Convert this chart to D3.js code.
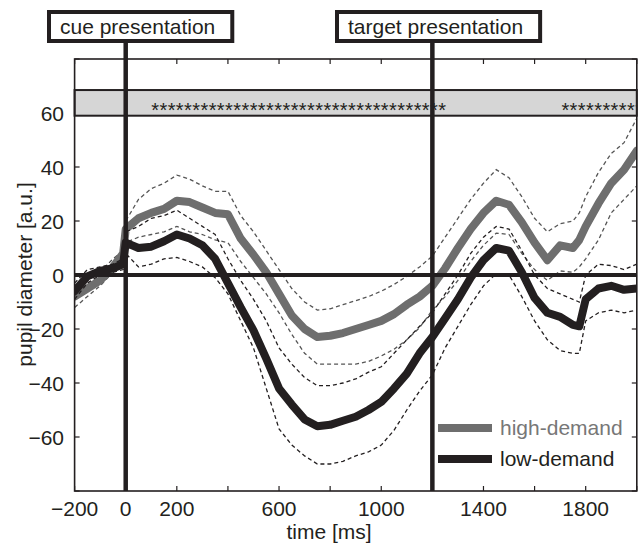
<!DOCTYPE html>
<html><head><meta charset="utf-8">
<script src="https://cdn.jsdelivr.net/npm/d3@7"></script>
<style>
html,body{margin:0;padding:0;background:#fff;}
text{font-family:"Liberation Sans",Arial,Helvetica,sans-serif;fill:#231f20;}
</style></head>
<body><svg id="c" width="642" height="545"></svg>
<script>
const times = [-200,-150,-100,-50,-10,0,50,100,150,200,250,300,350,400,450,500,550,600,650,700,750,800,850,900,950,1000,1050,1100,1150,1200,1250,1300,1350,1400,1450,1500,1550,1600,1650,1700,1750,1775,1800,1850,1900,1950,2000];
const highMean = [-8,-5,-2,3,8,17,21,23,24.5,27.5,27,25,23,22.5,13.5,7.5,1,-7,-15,-20,-23,-22.5,-21.5,-20,-18.5,-17,-14.5,-11,-8,-4,2.5,10,17,23,27.5,26,19.5,12,5.5,11,10,13,18,26.5,34,39,46];
const highUpper = [-4,-1,1,6,9,20,28,32,34,37,35.5,33,31,31,22,16,9,2,-5,-10,-13,-12.5,-11,-9.5,-8,-6,-3.5,-0.5,3,7,14,21,28,34,39,36,29,21,16,19,20,23,29,38,45,49,58];
const highLower = [-12,-8,-4,1,3,12,14,15,16,18,16,15,13,12,5,-1,-7,-14,-22,-29,-33,-33,-33,-33,-32,-30,-27.5,-24,-19.5,-13,-8,-2,5,11,15.5,15,8,2,-2,1.5,1,3,6,13,23,28,33];
const lowMean = [-6,-0.5,1.5,2.5,4,12,10,10.5,12.5,15,13.5,11,6,-3,-12,-20.5,-31,-42,-48,-53.5,-56,-55.5,-54,-52.5,-50,-47,-42,-36.5,-29,-23,-16,-9,-1,5.5,10,9,1,-8.5,-14,-15.5,-18.5,-19,-9,-5,-4,-5.5,-5];
const lowUpper = [-3,2,3,4,6,16,18,21,22,24,21,18,15,6,-2,-9,-17,-27,-33,-38,-41,-41,-40,-38.5,-36,-34,-29,-24,-19,-14,-7,0,8,14,18,17,9,0,-5,-7,-9,-10,0,4,3.5,2,4];
const lowLower = [-9,-3,0,1,2,8,3,4,6,6.5,5,3,-1,-7,-17,-27,-42,-57,-63,-67,-70,-70,-69,-67,-65.5,-63,-57.5,-50,-43,-37,-27,-19,-11,-4,0.5,0,-8,-17,-24,-28,-29,-29,-17,-14,-13,-14,-13];

const seriesNames = ["high-demand","low-demand"];
const seriesColors = ["#6e6e6e","#231f20"];
const events = [{t:0,label:"cue presentation"},{t:1200,label:"target presentation"}];
const sigWindows = [[100,1230],[1705,2000]];
const xTickValues = [-200,0,200,400,600,800,1000,1200,1400,1600,1800,2000];
const xTickLabels = ["\u2212200","0","200","","600","","1000","","1400","","1800",""];
const yTickValues = [-80,-60,-40,-20,0,20,40,60,80];
const yTickLabels = ["","\u221260","\u221240","\u221220","0","20","40","60",""];
const bandRange = [59,68.5];

const svg = d3.select("#c");
const L=74.6, R=636.8, T=59, B=491;
const x = d3.scaleLinear().domain([-200,2000]).range([L,R]);
const y = d3.scaleLinear().domain([-80,80]).range([B,T]);
const ink = "#231f20";

svg.append("defs").append("clipPath").attr("id","clip")
  .append("rect").attr("x",L).attr("y",T).attr("width",R-L).attr("height",B-T);

// frame ticks
const tickLen = 5;
const ax = svg.append("g");
xTickValues.forEach(v=>{
  ax.append("line").attr("x1",x(v)).attr("x2",x(v)).attr("y1",B).attr("y2",B-tickLen).attr("stroke",ink).attr("stroke-width",1.2);
  ax.append("line").attr("x1",x(v)).attr("x2",x(v)).attr("y1",T).attr("y2",T+tickLen).attr("stroke",ink).attr("stroke-width",1.2);
});
yTickValues.forEach(v=>{
  ax.append("line").attr("x1",L).attr("x2",L+tickLen).attr("y1",y(v)).attr("y2",y(v)).attr("stroke",ink).attr("stroke-width",1.2);
  ax.append("line").attr("x1",R).attr("x2",R-tickLen).attr("y1",y(v)).attr("y2",y(v)).attr("stroke",ink).attr("stroke-width",1.2);
});
xTickValues.forEach((v,i)=>{
  if(!xTickLabels[i]) return;
  ax.append("text").attr("x",x(v)).attr("y",516).attr("text-anchor","middle").attr("font-size",21).text(xTickLabels[i]);
});
yTickValues.forEach((v,i)=>{
  if(!yTickLabels[i]) return;
  ax.append("text").attr("x",64).attr("y",y(v)+7.5).attr("text-anchor","end").attr("font-size",21).text(yTickLabels[i]);
});
svg.append("text").attr("x",329).attr("y",539).attr("text-anchor","middle").attr("font-size",21).text("time [ms]");
svg.append("text").attr("transform","rotate(-90)").attr("x",-274.5).attr("y",32).attr("text-anchor","middle").attr("font-size",21).text("pupil diameter [a.u.]");

// curves
const plot = svg.append("g").attr("clip-path","url(#clip)");
const line = arr => d3.line().x((d,i)=>x(times[i])).y(d=>y(d))(arr);
const dash = "4,3";
[[highUpper,seriesColors[0]],[highLower,seriesColors[0]]].forEach(([a,c])=>{
  plot.append("path").attr("d",line(a)).attr("fill","none").attr("stroke","#555").attr("stroke-width",1.3).attr("stroke-dasharray",dash);
});
plot.append("path").attr("d",line(highMean)).attr("fill","none").attr("stroke",seriesColors[0]).attr("stroke-width",8).attr("stroke-linejoin","round").attr("stroke-linecap","round");
[lowUpper,lowLower].forEach(a=>{
  plot.append("path").attr("d",line(a)).attr("fill","none").attr("stroke",ink).attr("stroke-width",1.3).attr("stroke-dasharray",dash);
});
plot.append("path").attr("d",line(lowMean)).attr("fill","none").attr("stroke",seriesColors[1]).attr("stroke-width",8).attr("stroke-linejoin","round").attr("stroke-linecap","round");

// zero line
svg.append("line").attr("x1",L).attr("x2",R).attr("y1",y(0)).attr("y2",y(0)).attr("stroke",ink).attr("stroke-width",4);

// significance band
svg.append("rect").attr("x",L).attr("y",y(bandRange[1])).attr("width",R-L).attr("height",y(bandRange[0])-y(bandRange[1]))
  .attr("fill","#d6d6d6").attr("stroke",ink).attr("stroke-width",2);
const starG = svg.append("g").attr("clip-path","url(#clip)");
const starStep = 8.2;
sigWindows.forEach(([a,b])=>{
  const n = Math.round((x(b)-x(a))/starStep);
  for(let i=0;i<=n;i++){
    starG.append("text").attr("x",x(a)+i*starStep).attr("y",y(bandRange[0])+1).attr("font-size",20).text("*");
  }
});

// frame
svg.append("rect").attr("x",L).attr("y",T).attr("width",R-L).attr("height",B-T).attr("fill","none").attr("stroke",ink).attr("stroke-width",1.6);

// event lines & boxes
const boxLeft = [47,335];
events.forEach((e,i)=>{
  svg.append("line").attr("x1",x(e.t)).attr("x2",x(e.t)).attr("y1",42).attr("y2",B).attr("stroke",ink).attr("stroke-width",4.5);
  const g = svg.append("g");
  const txt = g.append("text").attr("x",boxLeft[i]+13).attr("y",33.5).attr("font-size",21).text(e.label);
  const w = txt.node().getComputedTextLength();
  g.insert("rect","text").attr("x",boxLeft[i]+2).attr("y",12).attr("width",w+28).attr("height",29)
    .attr("fill","#fff").attr("stroke",ink).attr("stroke-width",4);
});

// legend
const legY = [428,459];
seriesNames.forEach((n,i)=>{
  svg.append("line").attr("x1",438).attr("x2",492).attr("y1",legY[i]).attr("y2",legY[i]).attr("stroke",seriesColors[i]).attr("stroke-width",8);
  svg.append("text").attr("x",500).attr("y",legY[i]+6.5).attr("font-size",21).style("fill",i===0?"#777":ink).text(n);
});
</script></body></html>
